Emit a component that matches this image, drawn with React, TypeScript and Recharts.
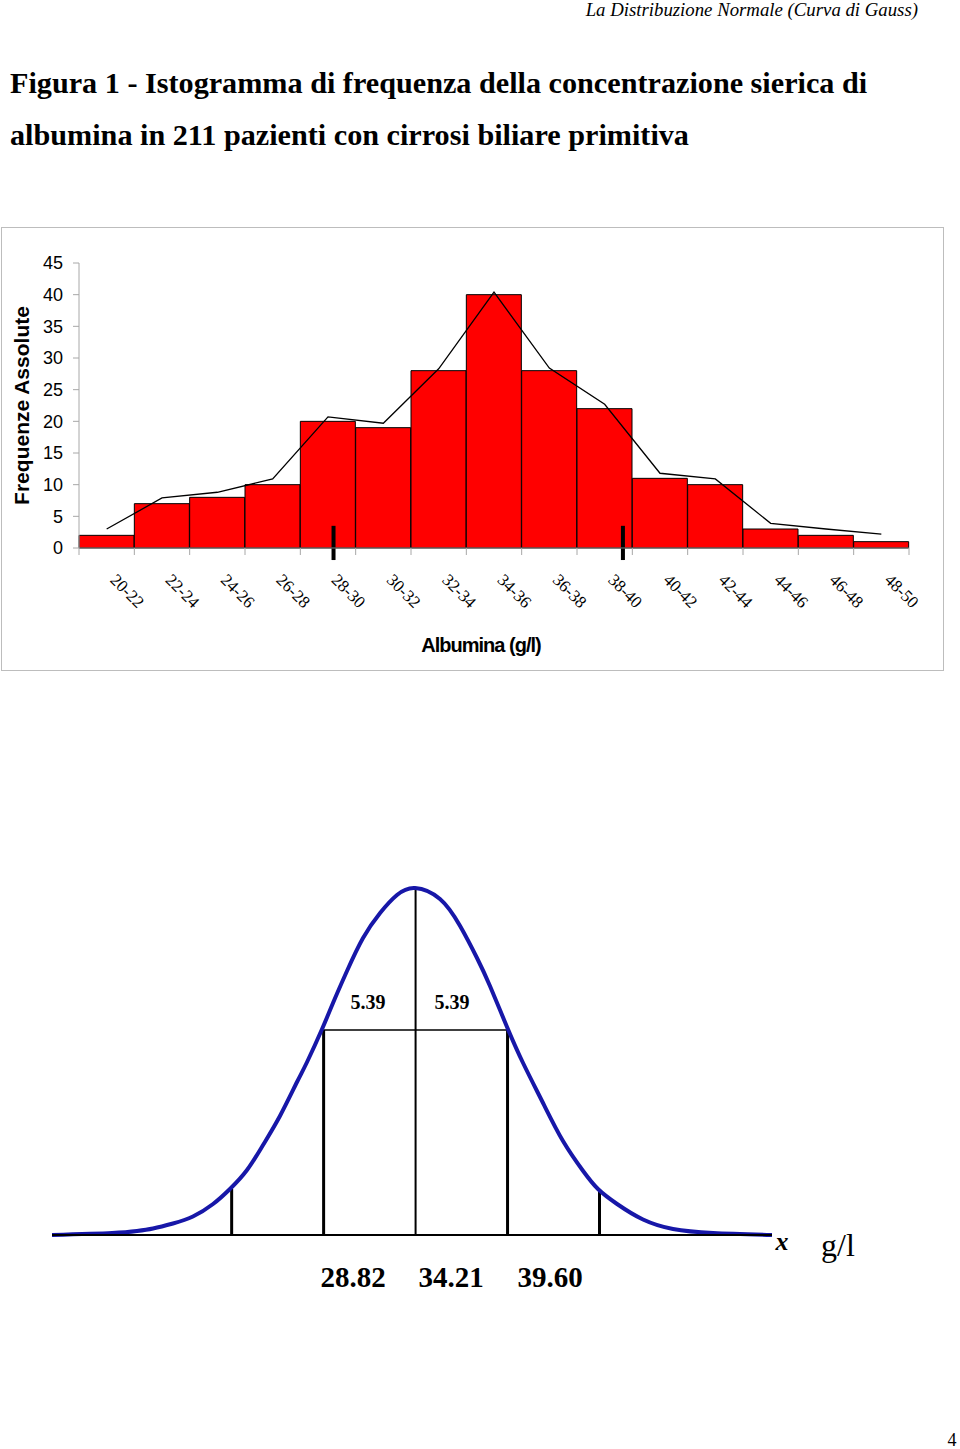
import {
  ComposedChart,
  Bar,
  Line,
  XAxis,
  YAxis,
  ReferenceLine,
  Label,
} from "recharts";

// histogram of serum albumin (g/l), 211 patients
const classes = [
  "20-22", "22-24", "24-26", "26-28", "28-30", "30-32", "32-34", "34-36",
  "36-38", "38-40", "40-42", "42-44", "44-46", "46-48", "48-50",
];
const counts = [2, 7, 8, 10, 20, 19, 28, 40, 28, 22, 11, 10, 3, 2, 1];
const trend = [3.0, 7.9, 8.8, 10.9, 20.7, 19.7, 28.3, 40.4, 28.4, 22.7, 11.8, 10.9, 3.9, 3.0, 2.2];
const freqTicks = [0, 5, 10, 15, 20, 25, 30, 35, 40, 45];
// thick marks under the axis (g/l)
const markerX = [29.2, 39.66];

// gaussian sketch: x in g/l, h = height of the curve
const curveX = [
  12.9, 16.42, 17.88, 18.82, 19.99, 21.16, 22.34, 23.33, 24.33, 25.27, 26.26,
  27.26, 27.85, 28.73, 29.37, 30.19, 31.13, 32.13, 33.12, 34.18, 35.64, 36.82,
  37.81, 38.57, 39.57, 40.51, 41.68, 42.85, 44.03, 44.9, 46.02, 47.54, 49.3,
  51.65, 55.1,
];
const curveH = [
  0, 2, 4, 6.5, 11.5, 18.5, 31, 46, 65, 90, 119,
  153, 173, 206, 232, 264, 297, 322, 340, 347, 336, 309,
  277, 249, 208, 172, 132, 94, 64, 46, 31, 15.5, 6,
  2, 0,
];
const sdTicks = [18.04, 23.43, 28.82, 34.21, 39.6, 44.99, 50.38];
const guideX = [23.43, 28.82, 34.21, 39.6, 44.99];
const guideH = [46, 205, 347, 205, 45];
const meanLabels = ["28.82", "34.21", "39.60"];
const sdLabel = "5.39";

const SERIF = "'Liberation Serif', 'Times New Roman', serif";
const SANS = "'Liberation Sans', Arial, sans-serif";

const bounds = classes.map((c) => Number(c.split("-")[0]));
bounds.push(Number(classes[classes.length - 1].split("-")[1]));

function ClassTick(props: any) {
  const { x, y, index, width } = props;
  const half = width / classes.length / 2;
  const tx = x + half + 2.5;
  const ty = y + 33;
  return (
    <g>
      <line x1={x} x2={x} y1={y} y2={y + 7} stroke="#a8a8a8" />
      {index < classes.length && (
        <text
          x={tx}
          y={ty}
          transform={`rotate(45, ${tx}, ${ty})`}
          fontFamily={SERIF}
          fontSize={17}
          fill="#000"
        >
          {classes[index]}
        </text>
      )}
    </g>
  );
}

function Histogram() {
  const data = classes.map((cls, i) => ({
    cls,
    mid: (bounds[i] + bounds[i + 1]) / 2,
    count: counts[i],
    trend: trend[i],
  }));
  return (
    <ComposedChart
      width={943}
      height={444}
      data={data}
      barCategoryGap={0}
      barGap={0}
      margin={{ top: 36, right: 35, bottom: 0, left: 0 }}
    >
      <XAxis
        dataKey="mid"
        type="number"
        domain={[bounds[0], bounds[bounds.length - 1]]}
        ticks={bounds}
        interval={0}
        tickLine={false}
        tickSize={0}
        tickMargin={0}
        height={123}
        axisLine={{ stroke: "#808080" }}
        tick={(p: any) => <ClassTick {...p} />}
      >
        <Label
          value="Albumina (g/l)"
          position="insideBottom"
          offset={19}
          dx={-13}
          style={{ fontFamily: SANS, fontWeight: "bold", fontSize: 20, letterSpacing: "-1px", fill: "#000" }}
        />
      </XAxis>
      <YAxis
        domain={[0, 45]}
        ticks={freqTicks}
        interval={0}
        width={78}
        tickSize={6}
        tickMargin={10}
        axisLine={{ stroke: "#a8a8a8" }}
        tickLine={{ stroke: "#a8a8a8" }}
        tick={{ fontSize: 18, fill: "#000", fontFamily: SANS }}
      >
        <Label
          value="Frequenze Assolute"
          angle={-90}
          position="insideLeft"
          offset={21}
          style={{ textAnchor: "middle", fontFamily: SANS, fontWeight: "bold", fontSize: 21, fill: "#000" }}
        />
      </YAxis>
      <Bar dataKey="count" fill="#ff0000" stroke="#000" strokeWidth={1} isAnimationActive={false} />
      <Line
        dataKey="trend"
        type="linear"
        stroke="#000"
        strokeWidth={1.3}
        dot={false}
        isAnimationActive={false}
      />
      {markerX.map((v) => (
        <ReferenceLine
          key={v}
          segment={[{ x: v, y: -1.9 }, { x: v, y: 3.5 }]}
          stroke="#000"
          strokeWidth={4}
          ifOverflow="visible"
        />
      ))}
    </ComposedChart>
  );
}

function Gaussian() {
  const data = curveX.map((x, i) => ({ x, h: curveH[i] }));
  return (
    <ComposedChart
      width={960}
      height={440}
      data={data}
      margin={{ top: 15, right: 188, bottom: 0, left: 52 }}
    >
      <XAxis
        dataKey="x"
        type="number"
        domain={[12.9, 55.1]}
        allowDataOverflow
        ticks={sdTicks}
        interval={0}
        tick={false}
        tickSize={8}
        height={75}
        axisLine={{ stroke: "#000", strokeWidth: 2 }}
        tickLine={{ stroke: "#000", strokeWidth: 2.5 }}
      />
      <YAxis domain={[0, 350]} hide />
      {guideX.map((x, i) => (
        <ReferenceLine
          key={x}
          segment={[{ x, y: 0 }, { x, y: guideH[i] }]}
          stroke="#000"
          strokeWidth={i === 2 ? 2 : 3}
          ifOverflow="visible"
        />
      ))}
      <ReferenceLine
        segment={[{ x: guideX[1], y: guideH[1] }, { x: guideX[3], y: guideH[3] }]}
        stroke="#000"
        strokeWidth={1.5}
        ifOverflow="visible"
      />
      <Line
        dataKey="h"
        type="natural"
        stroke="#1717a8"
        strokeWidth={4}
        dot={false}
        isAnimationActive={false}
      />
    </ComposedChart>
  );
}

export default function App() {
  return (
    <div style={{ position: "absolute", left: 0, top: 0, width: 960, height: 1449, background: "#fff" }}>
      <div
        style={{
          position: "absolute",
          left: 1,
          top: 227,
          width: 943,
          height: 444,
          border: "1.5px solid #bdbdbd",
          boxSizing: "border-box",
        }}
      />
      <div style={{ position: "absolute", left: 1, top: 227 }}>
        <Histogram />
      </div>
      <div style={{ position: "absolute", left: 0, top: 870 }}>
        <Gaussian />
      </div>
      <svg
        width={960}
        height={1449}
        style={{ position: "absolute", left: 0, top: 0, pointerEvents: "none" }}
      >
        <text x={918} y={16} textAnchor="end" fontFamily={SERIF} fontStyle="italic" fontSize={18.8}>
          La Distribuzione Normale (Curva di Gauss)
        </text>
        <text x={10} y={93} fontFamily={SERIF} fontWeight="bold" fontSize={30.2}>
          Figura 1 - Istogramma di frequenza della concentrazione sierica di
        </text>
        <text x={10} y={145} fontFamily={SERIF} fontWeight="bold" fontSize={30.2}>
          albumina in 211 pazienti con cirrosi biliare primitiva
        </text>
        <text x={368} y={1009} textAnchor="middle" fontFamily={SERIF} fontWeight="bold" fontSize={20}>
          {sdLabel}
        </text>
        <text x={452} y={1009} textAnchor="middle" fontFamily={SERIF} fontWeight="bold" fontSize={20}>
          {sdLabel}
        </text>
        {meanLabels.map((t, i) => (
          <text
            key={t}
            x={[353, 451, 550][i]}
            y={1287}
            textAnchor="middle"
            fontFamily={SERIF}
            fontWeight="bold"
            fontSize={29}
          >
            {t}
          </text>
        ))}
        <text x={782} y={1250} textAnchor="middle" fontFamily={SERIF} fontStyle="italic" fontWeight="bold" fontSize={26}>
          x
        </text>
        <text x={838} y={1256} textAnchor="middle" fontFamily={SERIF} fontSize={32}>
          g/l
        </text>
        <text x={952} y={1446} textAnchor="middle" fontFamily={SERIF} fontSize={18}>
          4
        </text>
      </svg>
    </div>
  );
}
